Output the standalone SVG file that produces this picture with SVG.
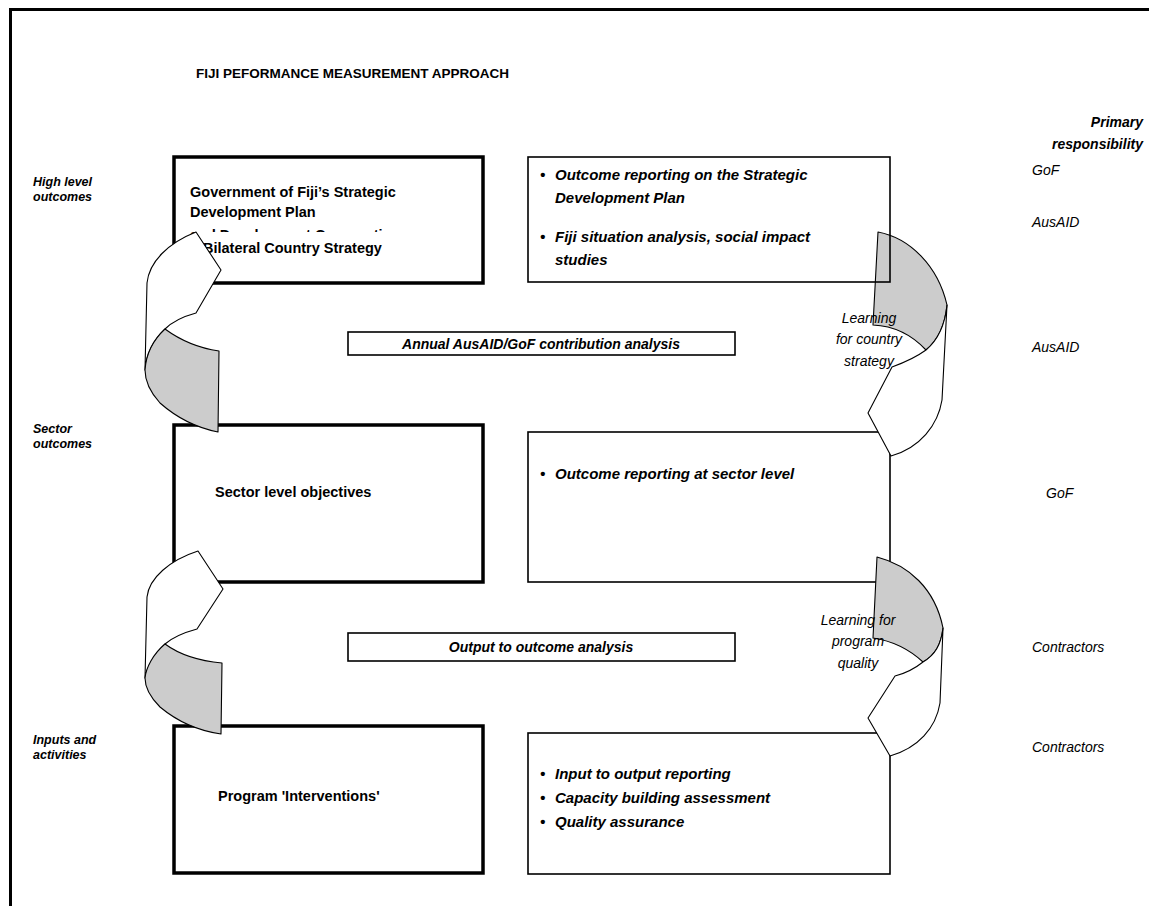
<svg xmlns="http://www.w3.org/2000/svg" width="1149" height="906" viewBox="0 0 1149 906">
<style>
text{font-family:"Liberation Sans",Arial,sans-serif;fill:#000}
.t{font-size:13.5px;font-weight:bold}
.lbl{font-size:12.5px;font-weight:bold;font-style:italic}
.resp{font-size:14px;font-style:italic}
.bx{font-size:14.5px;font-weight:bold}
.bi{font-size:15px;font-weight:bold;font-style:italic}
.lrn{font-size:14px;font-style:italic}
.thick{fill:#fff;stroke:#000;stroke-width:3.5}
.thin{fill:#fff;stroke:#000;stroke-width:1.6}
.wh{fill:#fff;stroke:#000;stroke-width:1.1;stroke-linejoin:round}
.gr{fill:#cccccc;stroke:#000;stroke-width:1.1;stroke-linejoin:round}
</style>
<rect width="1149" height="906" fill="#fff"/>
<g id="frame">
<path d="M10.5,906 V9.5 H1149" fill="none" stroke="#000" stroke-width="3"/>
</g>
<g id="title"><text class="t" x="196" y="78">FIJI PEFORMANCE MEASUREMENT APPROACH</text></g>
<g id="responsibility-header">
<text class="lbl" x="1143" y="127" text-anchor="end" style="font-size:14px">Primary</text>
<text class="lbl" x="1143" y="149" text-anchor="end" style="font-size:14px">responsibility</text>
</g>
<g id="level-labels">
<text class="lbl" x="33" y="186">High level</text>
<text class="lbl" x="33" y="201">outcomes</text>
<text class="lbl" x="33" y="433">Sector</text>
<text class="lbl" x="33" y="448">outcomes</text>
<text class="lbl" x="33" y="744">Inputs and</text>
<text class="lbl" x="33" y="759">activities</text>
</g>
<g id="box-gof-plan">
<rect class="thick" x="174" y="157" width="309" height="126"/>
<text class="bx" x="190" y="197">Government of Fiji’s Strategic</text>
<text class="bx" x="190" y="217">Development Plan</text>
<text class="bx" x="190" y="240">and Development Cooperation</text>
<rect x="196" y="232" width="240" height="30" fill="#fff"/>
<text class="bx" x="203" y="253">Bilateral Country Strategy</text>
</g>
<g id="box-sector-objectives">
<rect class="thick" x="174" y="425" width="309" height="157"/>
<text class="bx" x="215" y="497">Sector level objectives</text>
</g>
<g id="box-interventions">
<rect class="thick" x="174" y="726" width="309" height="147"/>
<text class="bx" x="218" y="801">Program 'Interventions'</text>
</g>
<g id="box-sector-reporting">
<rect class="thin" x="528" y="432" width="362" height="150"/>
<text class="bi" x="540" y="479">•</text>
<text class="bi" x="555" y="479">Outcome reporting at sector level</text>
</g>
<g id="box-output-reporting">
<rect class="thin" x="528" y="733" width="362" height="141"/>
<text class="bi" x="540" y="779">•</text>
<text class="bi" x="555" y="779">Input to output reporting</text>
<text class="bi" x="540" y="803">•</text>
<text class="bi" x="555" y="803">Capacity building assessment</text>
<text class="bi" x="540" y="827">•</text>
<text class="bi" x="555" y="827">Quality assurance</text>
</g>
<g id="connectors">
<g id="loop-left-1">
<path class="wh" d="M196,232 L221,270 L196,313 C185,316 173,321 165,329 C153,341 146,356 145,370 L147,283 C149,262 168,243 196,232 Z"/>
<path class="gr" d="M165,329 C180,340 198,348 219,351 L218,432 C198,428 177,418 160,403 C150,392 145,380 145,370 C146,355 153,340 165,329 Z"/>
</g>
<g id="loop-left-2">
<path class="wh" d="M198,551 L223,589 L197,629 C186,632 173,637 165,644 C153,656 146,670 145,678 L147,597 C149,578 170,560 198,551 Z"/>
<path class="gr" d="M165,644 C180,655 200,661 222,663 L221,734 C200,731 178,722 160,707 C150,697 145,688 145,678 C146,668 153,654 165,644 Z"/>
</g>
<g id="loop-right-1">
<path class="gr" d="M878,232 C910,238 938,266 947,305 C945,325 938,340 926,350 C912,335 895,326 873,325 Z"/>
<path class="wh" d="M926,350 C915,358 903,363 892,367 L868,413 L891,456 C920,448 938,425 942,400 L947,305 C945,325 938,340 926,350 Z"/>
</g>
<g id="loop-right-2">
<path class="gr" d="M877,557 C908,565 935,588 943,628 C941,645 935,655 923,662 C910,650 893,641 873,638 Z"/>
<path class="wh" d="M923,662 C913,670 903,674 895,676 L868,718 L890,756 C918,748 936,728 940,703 L943,628 C941,645 935,655 923,662 Z"/>
</g>
</g>
<g id="box-outcome-reporting">
<rect x="528" y="157" width="362" height="125" fill="none" stroke="#000" stroke-width="1.6"/>
<text class="bi" x="540" y="180">•</text>
<text class="bi" x="555" y="180">Outcome reporting on the Strategic</text>
<text class="bi" x="555" y="203">Development Plan</text>
<text class="bi" x="540" y="242">•</text>
<text class="bi" x="555" y="242">Fiji situation analysis, social impact</text>
<text class="bi" x="555" y="265">studies</text>
</g>
<g id="label-contribution">
<rect class="thin" x="348" y="332" width="387" height="23"/>
<text class="bi" x="541" y="349" text-anchor="middle" style="font-size:14px">Annual AusAID/GoF contribution analysis</text>
</g>
<g id="label-output-outcome">
<rect class="thin" x="348" y="633" width="387" height="28"/>
<text class="bi" x="541" y="652" text-anchor="middle" style="font-size:14px">Output to outcome analysis</text>
</g>
<g id="learning-labels">
<text class="lrn" x="869" y="323" text-anchor="middle">Learning</text>
<text class="lrn" x="869" y="344" text-anchor="middle">for country</text>
<text class="lrn" x="869" y="366" text-anchor="middle">strategy</text>
<text class="lrn" x="858" y="625" text-anchor="middle">Learning for</text>
<text class="lrn" x="858" y="646" text-anchor="middle">program</text>
<text class="lrn" x="858" y="668" text-anchor="middle">quality</text>
</g>
<g id="responsibility-labels">
<text class="resp" x="1032" y="175">GoF</text>
<text class="resp" x="1032" y="227">AusAID</text>
<text class="resp" x="1032" y="352">AusAID</text>
<text class="resp" x="1046" y="498">GoF</text>
<text class="resp" x="1032" y="652">Contractors</text>
<text class="resp" x="1032" y="752">Contractors</text>
</g>
</svg>
